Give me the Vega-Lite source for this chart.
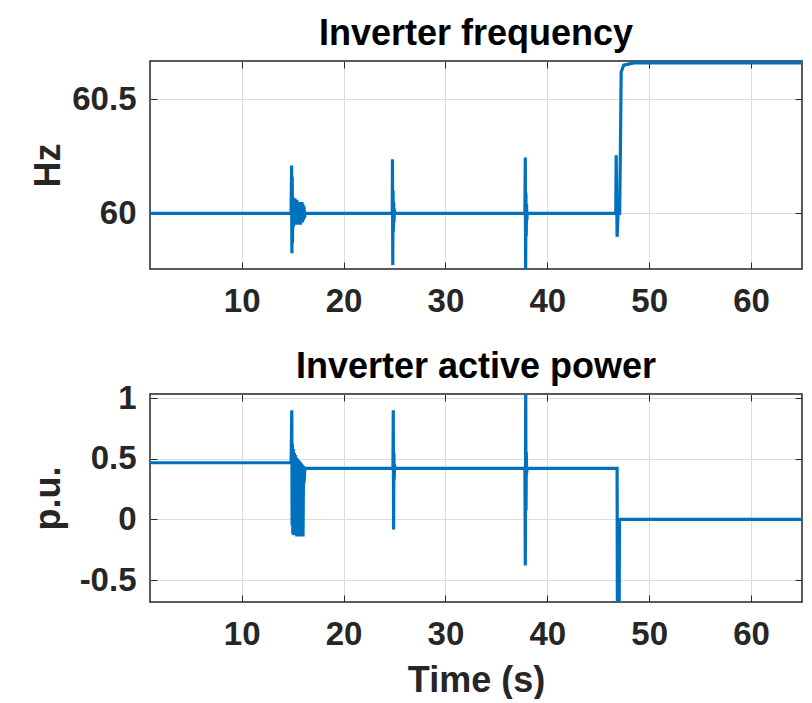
{
  "$schema": "https://vega.github.io/schema/vega-lite/v6.json",
  "padding": {"left": 29, "top": 14, "right": 5, "bottom": 0},
  "background": "white",
  "datasets": {
    "freq": [
      {"t": 1, "v": 60.0}, {"t": 5, "v": 60.0}, {"t": 10, "v": 60.0}, {"t": 14.85, "v": 60.0},
      {"t": 14.9, "v": 60.21}, {"t": 14.93, "v": 59.825}, {"t": 14.96, "v": 60.16}, {"t": 14.99, "v": 59.87},
      {"t": 15.02, "v": 60.07}, {"t": 15.07, "v": 59.94}, {"t": 15.12, "v": 60.066}, {"t": 15.17, "v": 59.95},
      {"t": 15.22, "v": 60.066}, {"t": 15.27, "v": 59.95}, {"t": 15.32, "v": 60.06}, {"t": 15.37, "v": 59.95},
      {"t": 15.42, "v": 60.06}, {"t": 15.47, "v": 59.95}, {"t": 15.52, "v": 60.05}, {"t": 15.57, "v": 59.95},
      {"t": 15.62, "v": 60.05}, {"t": 15.67, "v": 59.95}, {"t": 15.72, "v": 60.05}, {"t": 15.77, "v": 59.95},
      {"t": 15.82, "v": 60.05}, {"t": 15.87, "v": 59.96}, {"t": 15.92, "v": 60.05}, {"t": 15.97, "v": 59.96},
      {"t": 16.02, "v": 60.04}, {"t": 16.07, "v": 59.97}, {"t": 16.12, "v": 60.03}, {"t": 16.17, "v": 59.98},
      {"t": 16.22, "v": 60.0},
      {"t": 24.78, "v": 60.0}, {"t": 24.8, "v": 60.237}, {"t": 24.83, "v": 59.773}, {"t": 24.86, "v": 60.1},
      {"t": 24.89, "v": 59.92}, {"t": 24.92, "v": 60.05}, {"t": 24.95, "v": 59.96}, {"t": 24.98, "v": 60.02},
      {"t": 25.02, "v": 60.0},
      {"t": 37.8, "v": 60.0}, {"t": 37.84, "v": 60.245}, {"t": 37.87, "v": 59.7}, {"t": 37.9, "v": 60.09},
      {"t": 37.93, "v": 59.9}, {"t": 37.96, "v": 60.04}, {"t": 37.99, "v": 59.97}, {"t": 38.03, "v": 60.0},
      {"t": 46.72, "v": 60.0}, {"t": 46.76, "v": 60.255}, {"t": 46.85, "v": 59.897}, {"t": 46.95, "v": 60.0},
      {"t": 47.1, "v": 60.0}, {"t": 47.18, "v": 60.3}, {"t": 47.25, "v": 60.62}, {"t": 47.5, "v": 60.65},
      {"t": 48.5, "v": 60.66}, {"t": 65, "v": 60.66}
    ],
    "pow": [
      {"t": 1, "v": 0.467}, {"t": 10, "v": 0.467}, {"t": 14.85, "v": 0.467},
      {"t": 14.88, "v": 0.64}, {"t": 14.92, "v": 0.9}, {"t": 14.95, "v": -0.05}, {"t": 14.98, "v": 0.62},
      {"t": 15.02, "v": -0.12}, {"t": 15.07, "v": 0.58}, {"t": 15.12, "v": -0.13}, {"t": 15.17, "v": 0.55},
      {"t": 15.22, "v": -0.13}, {"t": 15.27, "v": 0.53}, {"t": 15.32, "v": -0.13}, {"t": 15.37, "v": 0.51},
      {"t": 15.42, "v": -0.14}, {"t": 15.47, "v": 0.5}, {"t": 15.52, "v": -0.14}, {"t": 15.57, "v": 0.49},
      {"t": 15.62, "v": -0.14}, {"t": 15.67, "v": 0.48}, {"t": 15.72, "v": -0.14}, {"t": 15.77, "v": 0.47},
      {"t": 15.82, "v": -0.14}, {"t": 15.87, "v": 0.46}, {"t": 15.92, "v": -0.14}, {"t": 15.97, "v": 0.45},
      {"t": 16.02, "v": -0.14}, {"t": 16.07, "v": 0.44}, {"t": 16.12, "v": 0.3}, {"t": 16.2, "v": 0.42},
      {"t": 24.85, "v": 0.42}, {"t": 24.88, "v": 0.9}, {"t": 24.91, "v": -0.083}, {"t": 24.94, "v": 0.55},
      {"t": 24.97, "v": 0.33}, {"t": 25.0, "v": 0.45}, {"t": 25.05, "v": 0.42},
      {"t": 37.8, "v": 0.42}, {"t": 37.84, "v": -0.38}, {"t": 37.88, "v": 1.15}, {"t": 37.91, "v": 0.074},
      {"t": 37.94, "v": 0.55}, {"t": 37.97, "v": 0.38}, {"t": 38.02, "v": 0.42},
      {"t": 46.85, "v": 0.42}, {"t": 46.88, "v": -0.85}, {"t": 47.05, "v": -0.85}, {"t": 47.08, "v": 0.0},
      {"t": 65, "v": 0.0}
    ]
  },
  "spacing": 29,
  "vconcat": [
    {
      "width": 652,
      "height": 208,
      "title": {"text": "Inverter frequency", "offset": -20, "baseline": "alphabetic"},
      "data": {"name": "freq"},
      "layer": [
        {
          "mark": {"type": "line", "color": "#0072BD", "strokeWidth": 3.2, "clip": true},
          "encoding": {
            "x": {"field": "t", "type": "quantitative", "scale": {"domain": [1, 65], "nice": false, "zero": false},
                  "axis": {"title": null, "values": [10, 20, 30, 40, 50, 60], "orient": "bottom"}},
            "y": {"field": "v", "type": "quantitative", "scale": {"domain": [59.756, 60.668], "nice": false, "zero": false},
                  "axis": {"title": "Hz", "values": [60, 60.5], "orient": "left", "labelExpr": "datum.value + ''"}}
          }
        },
        {
          "mark": {"type": "line", "strokeOpacity": 0, "clip": true},
          "encoding": {
            "x": {"field": "t", "type": "quantitative",
                  "axis": {"title": null, "values": [10, 20, 30, 40, 50, 60], "orient": "top", "labels": false, "grid": false, "minExtent": 0, "maxExtent": 0, "labelPadding": 0}},
            "y": {"field": "v", "type": "quantitative",
                  "axis": {"title": null, "values": [60, 60.5], "orient": "right", "labels": false, "grid": false, "minExtent": 0, "maxExtent": 0, "labelPadding": 0}}
          }
        }
      ],
      "resolve": {"axis": {"x": "independent", "y": "independent"}}
    },
    {
      "width": 652,
      "height": 208,
      "title": {"text": "Inverter active power", "offset": -32, "baseline": "alphabetic"},
      "data": {"name": "pow"},
      "layer": [
        {
          "mark": {"type": "line", "color": "#0072BD", "strokeWidth": 3.2, "clip": true},
          "encoding": {
            "x": {"field": "t", "type": "quantitative", "scale": {"domain": [1, 65], "nice": false, "zero": false},
                  "axis": {"title": "Time (s)", "titlePadding": 12, "values": [10, 20, 30, 40, 50, 60], "orient": "bottom"}},
            "y": {"field": "v", "type": "quantitative", "scale": {"domain": [-0.68, 1.033], "nice": false, "zero": false},
                  "axis": {"title": "p.u.", "values": [-0.5, 0, 0.5, 1], "orient": "left", "labelExpr": "datum.value + ''"}}
          }
        },
        {
          "mark": {"type": "line", "strokeOpacity": 0, "clip": true},
          "encoding": {
            "x": {"field": "t", "type": "quantitative",
                  "axis": {"title": null, "values": [10, 20, 30, 40, 50, 60], "orient": "top", "labels": false, "grid": false, "minExtent": 0, "maxExtent": 0, "labelPadding": 0}},
            "y": {"field": "v", "type": "quantitative",
                  "axis": {"title": null, "values": [-0.5, 0, 0.5, 1], "orient": "right", "labels": false, "grid": false, "minExtent": 0, "maxExtent": 0, "labelPadding": 0}}
          }
        }
      ],
      "resolve": {"axis": {"x": "independent", "y": "independent"}}
    }
  ],
  "config": {
    "view": {"stroke": "#262626", "strokeWidth": 1.5},
    "axis": {
      "labelFont": "Liberation Sans", "labelFontSize": 33, "labelFontWeight": "bold", "labelColor": "#262626",
      "titleFont": "Liberation Sans", "titleFontSize": 36, "titleFontWeight": "bold", "titleColor": "#262626",
      "gridColor": "#dcdcdc", "gridWidth": 1, "gridOpacity": 1,
      "domain": false, "tickColor": "#262626", "tickSize": -7, "tickWidth": 1,
      "labelPadding": 21
    },
    "axisX": {"labelPadding": 23},
    "axisY": {"titleX": -91, "titleBaseline": "alphabetic", "titleAlign": "center", "titlePadding": 10},
    "title": {"font": "Liberation Sans", "fontSize": 36, "fontWeight": "bold", "color": "#000000", "anchor": "middle"}
  }
}
